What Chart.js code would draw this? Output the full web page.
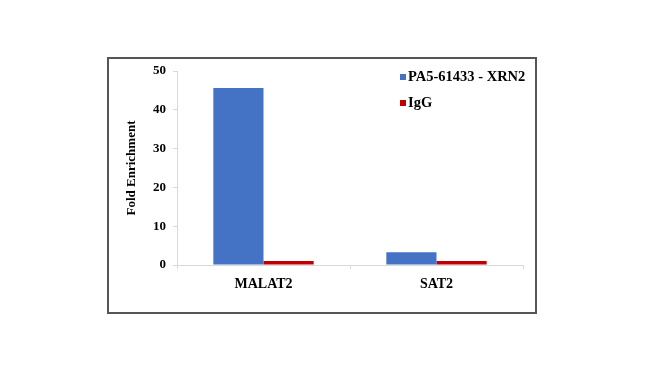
<!DOCTYPE html>
<html>
<head>
<meta charset="utf-8">
<script src="https://cdn.jsdelivr.net/npm/chart.js@4"></script>
<style>
  html, body { margin: 0; padding: 0; background: #fff; }
</style>
</head>
<body>
<canvas id="myChart" width="650" height="372"></canvas>
<script>
const categories = ['MALAT2', 'SAT2'];
const xrn2Values = [45.6, 3.3];
const iggValues = [1.0, 1.0];
const seriesNames = ['PA5-61433 - XRN2', 'IgG'];
const yTicks = [0, 10, 20, 30, 40, 50];

const font = { family: '"Liberation Serif", "Times New Roman", serif', weight: 'bold', size: 13 };

// frame around the figure + legend drawn inside the plot area
const frameAndLegend = {
  id: 'frameAndLegend',
  afterDraw(chart) {
    const c = chart.ctx;
    c.save();
    c.strokeStyle = '#555';
    c.lineWidth = 2;
    c.strokeRect(108, 58, 428, 255);
    c.font = 'bold 14.5px "Liberation Serif", serif';
    c.textBaseline = 'middle';
    chart.data.datasets.forEach((ds, i) => {
      const y = 77 + i * 26;
      c.fillStyle = ds.backgroundColor;
      c.fillRect(400, y - 3, 6, 6);
      c.fillStyle = '#000';
      c.fillText(ds.label, 408, y);
    });
    c.restore();
  }
};

new Chart(document.getElementById('myChart'), {
  type: 'bar',
  data: {
    labels: categories,
    datasets: [
      { label: seriesNames[0], data: xrn2Values, backgroundColor: '#4472c4' },
      { label: seriesNames[1], data: iggValues, backgroundColor: '#c00000' }
    ]
  },
  options: {
    responsive: false,
    animation: false,
    layout: { padding: { left: 124, right: 127, top: 71, bottom: 59 } },
    datasets: { bar: { categoryPercentage: 0.58, barPercentage: 1 } },
    plugins: { legend: { display: false }, tooltip: { enabled: false } },
    scales: {
      x: {
        afterFit(s) { s.height = 48; },
        grid: { drawOnChartArea: false, tickLength: 4, color: '#d9d9d9' },
        border: { color: '#d9d9d9' },
        ticks: { color: '#000', font: { ...font, size: 14 }, padding: 7 }
      },
      y: {
        min: 0, max: 50,
        afterFit(s) { s.width = 53; },
        afterBuildTicks(s) { s.ticks = yTicks.map(v => ({ value: v })); },
        grid: { drawOnChartArea: false, tickLength: 4, color: '#d9d9d9' },
        border: { color: '#d9d9d9' },
        ticks: { color: '#000', font: font, padding: 7 },
        title: { display: true, text: 'Fold Enrichment', color: '#000', font: font, padding: 0 }
      }
    }
  },
  plugins: [frameAndLegend]
});
</script>
</body>
</html>
